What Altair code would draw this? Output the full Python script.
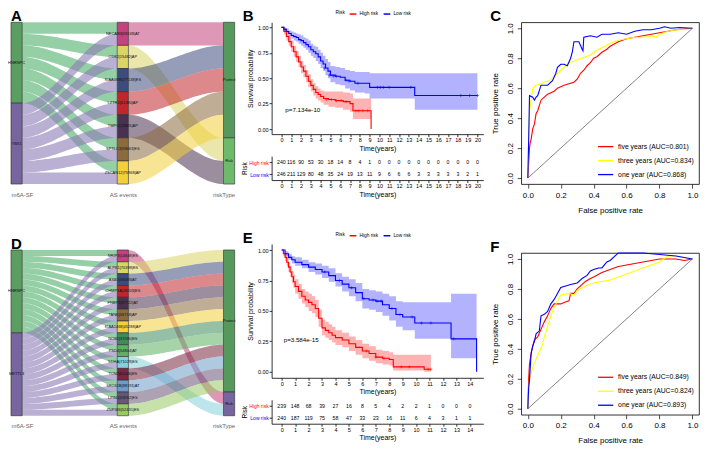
import altair as alt
import pandas as pd
import numpy as np

FONT = "Liberation Sans"

# ---------------- Sankey data (panels A and D) ----------------
A_left = ["HNRNPC", "YBX1"]
A_mid = ["NECAB3|59248|AT", "CD82|15482|AP", "KIAA0895|77138|ES", "LZTR1|61380|AP",
         "TMPO|23965|AP", "SPTLC3|59463|ES", "ZSCAN12|75968|AP"]
A_mid_colors = ["#C4427D", "#DAD466", "#3E4C7D", "#C1262C", "#4A3151", "#8D6A3E", "#F2D03B"]
A_mid_risk = ["Protect", "Risk", "Protect", "Protect", "Risk", "Protect", "Protect"]
A_right = ["Protect", "Risk"]
A_right_colors = ["#559A5C", "#6DBA6B"]

D_left = ["HNRNPC", "METTL3"]
D_mid = ["NRIP3|14848|ES", "ALPK1|70398|ES", "ASB1|58493|AT", "CHMP1A|38203|ES",
         "FNBP1|87722|AT", "TANK|55718|AP", "KIAA1468|45288|AP", "NOB1|37090|ES",
         "PSD4|54804|AT", "SDHA|71029|ES", "TCN2|62046|ES", "SEC61B|88191|AT",
         "LPIN1|53762|ES", "ZNF586|52431|ES"]
D_mid_colors = ["#C4427D", "#DAD466", "#3E4C7D", "#C1262C", "#4A3151", "#8D6A3E", "#F2D03B",
                "#3F8C5C", "#5FAE62", "#86D0DD", "#7A2841", "#6E9CC9", "#675674", "#98C965"]
D_mid_risk = ["Risk", "Protect", "Protect", "Protect", "Protect", "Protect", "Protect",
              "Protect", "Protect", "Risk", "Protect", "Protect", "Protect", "Protect"]
D_right = ["Protect", "Risk"]
D_right_colors = ["#559A5C", "#76659E"]

LEFT_COLORS = ["#5B9E62", "#76659E"]
FLOW_COLORS = ["#4FAF6A", "#8C7BB5"]
AXIS_NAMES = ["m6A-SF", "AS events", "riskType"]

# ---------------- Kaplan-Meier data (panels B and E) ----------------
B_red_t = [0, 0.25, 0.5, 0.75, 1.0, 1.25, 1.5, 1.75, 2.0, 2.25, 2.5, 2.75, 3.0, 3.25, 3.5, 3.75,
           4.0, 4.3, 4.8, 5.5, 6.3, 7.0, 7.3, 9.15]
B_red_s = [1.0, 0.96, 0.91, 0.86, 0.81, 0.76, 0.71, 0.66, 0.61, 0.57, 0.52, 0.47, 0.43, 0.39, 0.36, 0.34,
           0.32, 0.30, 0.29, 0.28, 0.27, 0.25, 0.18, 0.0]
B_red_lo = [1.0, 0.93, 0.87, 0.82, 0.76, 0.71, 0.66, 0.61, 0.55, 0.51, 0.46, 0.41, 0.37, 0.33, 0.30, 0.28,
            0.26, 0.24, 0.22, 0.21, 0.19, 0.17, 0.10, 0.10]
B_red_hi = [1.0, 0.99, 0.95, 0.91, 0.87, 0.82, 0.77, 0.72, 0.67, 0.63, 0.58, 0.54, 0.49, 0.45, 0.42, 0.40,
            0.38, 0.37, 0.37, 0.37, 0.36, 0.35, 0.30, 0.30]
B_blue_t = [0, 0.25, 0.5, 0.75, 1.0, 1.25, 1.5, 1.75, 2.0, 2.25, 2.5, 2.75, 3.0, 3.25, 3.5, 3.75, 4.0,
            4.25, 4.5, 4.75, 5.0, 5.5, 6.0, 6.5, 7.0, 7.5, 8.0, 8.5, 9.0, 13.6, 20.0]
B_blue_s = [1.0, 0.98, 0.96, 0.94, 0.92, 0.91, 0.90, 0.88, 0.87, 0.85, 0.83, 0.81, 0.78, 0.76, 0.74, 0.71,
            0.67, 0.64, 0.60, 0.57, 0.53, 0.52, 0.51, 0.48, 0.47, 0.45, 0.45, 0.45, 0.41, 0.33, 0.33]
B_blue_lo = [1.0, 0.96, 0.94, 0.91, 0.89, 0.87, 0.86, 0.84, 0.82, 0.80, 0.78, 0.75, 0.72, 0.70, 0.67, 0.64,
             0.60, 0.57, 0.53, 0.50, 0.46, 0.44, 0.43, 0.40, 0.38, 0.36, 0.36, 0.35, 0.30, 0.19, 0.19]
B_blue_hi = [1.0, 1.0, 0.99, 0.97, 0.96, 0.95, 0.94, 0.93, 0.92, 0.90, 0.89, 0.87, 0.84, 0.82, 0.81, 0.78,
             0.75, 0.72, 0.69, 0.66, 0.62, 0.61, 0.60, 0.58, 0.57, 0.56, 0.56, 0.56, 0.55, 0.55, 0.55]
B_red_cens_t = [4.6, 5.1, 5.6, 6.1, 6.6, 7.6, 7.9, 8.3, 8.8]
B_red_cens_s = [0.29, 0.29, 0.28, 0.28, 0.27, 0.18, 0.18, 0.18, 0.18]
B_blue_cens_t = [4.4, 4.9, 5.3, 5.6, 6.6, 6.9, 7.8, 9.8, 10.1, 10.4, 11.0, 13.2, 18.3, 19.2, 20.0]
B_blue_cens_s = [0.60, 0.53, 0.52, 0.52, 0.48, 0.47, 0.45, 0.41, 0.41, 0.41, 0.41, 0.41, 0.33, 0.33, 0.33]
B_high_n = [240, 116, 90, 53, 30, 18, 14, 8, 4, 1, 0, 0, 0, 0, 0, 0, 0, 0, 0, 0, 0]
B_low_n = [246, 211, 129, 80, 48, 35, 24, 19, 13, 11, 9, 6, 6, 6, 3, 3, 3, 3, 3, 2, 1]
B_pvalue = "p=7.134e-10"

E_red_t = [0, 0.125, 0.25, 0.375, 0.5, 0.625, 0.75, 0.875, 1.0, 1.25, 1.5, 1.75, 2.0, 2.25, 2.5, 2.75,
           3.0, 3.25, 3.5, 3.75, 4.0, 4.5, 5.0, 5.5, 6.0, 6.5, 7.0, 7.5, 8.0, 8.3, 10.6, 11.1]
E_red_s = [1.0, 0.97, 0.94, 0.90, 0.86, 0.82, 0.78, 0.74, 0.70, 0.66, 0.62, 0.59, 0.57, 0.55, 0.52, 0.44,
           0.36, 0.34, 0.32, 0.30, 0.28, 0.26, 0.23, 0.20, 0.17, 0.15, 0.12, 0.11, 0.10, 0.04, 0.02, 0.02]
E_red_lo = [1.0, 0.95, 0.91, 0.87, 0.82, 0.78, 0.73, 0.69, 0.64, 0.60, 0.56, 0.53, 0.50, 0.48, 0.45, 0.37,
            0.30, 0.28, 0.26, 0.24, 0.22, 0.20, 0.17, 0.14, 0.11, 0.09, 0.07, 0.06, 0.05, 0.01, 0.0, 0.0]
E_red_hi = [1.0, 0.99, 0.97, 0.94, 0.90, 0.87, 0.83, 0.80, 0.76, 0.72, 0.68, 0.66, 0.64, 0.62, 0.59, 0.51,
            0.43, 0.41, 0.39, 0.37, 0.34, 0.32, 0.29, 0.26, 0.23, 0.21, 0.18, 0.17, 0.16, 0.14, 0.14, 0.14]
E_blue_t = [0, 0.25, 0.5, 0.75, 1.0, 1.5, 2.0, 2.5, 3.0, 3.5, 4.0, 4.5, 5.0, 5.5, 6.0, 6.5, 7.0, 7.5,
            8.0, 8.5, 9.0, 9.9, 12.6, 14.5]
E_blue_s = [1.0, 0.97, 0.94, 0.92, 0.90, 0.88, 0.86, 0.84, 0.82, 0.79, 0.75, 0.72, 0.69, 0.65, 0.60, 0.59,
            0.58, 0.55, 0.52, 0.47, 0.45, 0.40, 0.27, 0.0]
E_blue_lo = [1.0, 0.95, 0.92, 0.89, 0.87, 0.85, 0.82, 0.80, 0.77, 0.74, 0.70, 0.66, 0.62, 0.58, 0.52, 0.51,
             0.49, 0.46, 0.42, 0.37, 0.34, 0.27, 0.11, 0.11]
E_blue_hi = [1.0, 0.99, 0.97, 0.95, 0.94, 0.92, 0.90, 0.89, 0.87, 0.85, 0.81, 0.78, 0.76, 0.73, 0.68, 0.67,
             0.66, 0.64, 0.62, 0.58, 0.57, 0.57, 0.64, 0.64]
E_red_cens_t = [6.3, 7.0, 7.6, 8.9, 9.5, 10.9, 11.1]
E_red_cens_s = [0.17, 0.12, 0.11, 0.04, 0.04, 0.02, 0.02]
E_blue_cens_t = [3.2, 4.3, 5.2, 6.1, 6.8, 7.1, 7.4, 8.2, 8.8, 9.7, 10.4, 11.1, 12.8]
E_blue_cens_s = [0.82, 0.75, 0.69, 0.60, 0.59, 0.58, 0.58, 0.52, 0.47, 0.45, 0.40, 0.40, 0.27]
E_high_n = [239, 148, 68, 39, 27, 16, 8, 5, 4, 2, 2, 1, 0, 0, 0]
E_low_n = [240, 187, 119, 75, 58, 47, 33, 23, 16, 11, 6, 4, 3, 1, 1]
E_pvalue = "p=3.584e-15"

RISK_GROUPS = ["High risk", "Low risk"]
RISK_COLORS = ["#FF0000", "#0000FF"]

# ---------------- ROC data (panels C and F) ----------------
ROC_NAMES_C = ["five years (AUC=0.801)", "three years (AUC=0.834)", "one year (AUC=0.868)"]
ROC_NAMES_F = ["five years (AUC=0.849)", "three years (AUC=0.824)", "one year (AUC=0.893)"]
ROC_COLORS = ["#FF0000", "#FFFF00", "#0000FF"]
ROC_TICKS = [0.0, 0.2, 0.4, 0.6, 0.8, 1.0]

C_red_fpr = [0, 0.005, 0.01, 0.015, 0.02, 0.03, 0.04, 0.05, 0.06, 0.08, 0.10, 0.12, 0.14, 0.16, 0.18,
             0.20, 0.22, 0.25, 0.28, 0.30, 0.32, 0.34, 0.36, 0.38, 0.40, 0.42, 0.45, 0.48, 0.50, 0.55,
             0.60, 0.65, 0.70, 0.75, 0.80, 0.85, 0.90, 0.95, 1.0]
C_red_tpr = [0, 0.10, 0.20, 0.24, 0.26, 0.33, 0.36, 0.43, 0.45, 0.52, 0.54, 0.56, 0.57, 0.58, 0.60,
             0.61, 0.62, 0.63, 0.64, 0.66, 0.70, 0.72, 0.75, 0.77, 0.80, 0.81, 0.84, 0.86, 0.88, 0.91,
             0.93, 0.94, 0.95, 0.96, 0.97, 0.98, 0.99, 0.995, 1.0]
C_yel_fpr = [0, 0.003, 0.006, 0.01, 0.02, 0.03, 0.05, 0.08, 0.10, 0.13, 0.15, 0.18, 0.20, 0.23, 0.25,
             0.28, 0.30, 0.33, 0.35, 0.38, 0.40, 0.45, 0.50, 0.55, 0.60, 0.65, 0.70, 0.75, 0.78, 0.80,
             0.85, 0.90, 0.95, 1.0]
C_yel_tpr = [0, 0.20, 0.32, 0.45, 0.52, 0.60, 0.62, 0.63, 0.64, 0.65, 0.67, 0.70, 0.72, 0.75, 0.77,
             0.78, 0.79, 0.80, 0.81, 0.82, 0.84, 0.87, 0.90, 0.92, 0.93, 0.94, 0.94, 0.95, 0.94, 0.96,
             0.98, 0.99, 0.99, 1.0]
C_blu_fpr = [0, 0.003, 0.005, 0.008, 0.01, 0.03, 0.04, 0.05, 0.06, 0.08, 0.10, 0.12, 0.15, 0.17, 0.18,
             0.20, 0.22, 0.24, 0.26, 0.27, 0.28, 0.31, 0.33, 0.335, 0.34, 0.38, 0.42, 0.45, 0.50, 0.55,
             0.60, 0.65, 0.70, 0.75, 0.80, 0.83, 0.87, 0.92, 1.0]
C_blu_tpr = [0, 0.15, 0.25, 0.42, 0.55, 0.54, 0.52, 0.54, 0.55, 0.62, 0.62, 0.62, 0.65, 0.70, 0.74,
             0.76, 0.76, 0.75, 0.80, 0.84, 0.91, 0.91, 0.86, 0.85, 0.94, 0.95, 0.94, 0.96, 0.96, 0.97,
             0.96, 0.98, 0.99, 0.99, 1.0, 1.01, 1.0, 1.005, 1.0]

F_red_fpr = [0, 0.005, 0.01, 0.02, 0.03, 0.04, 0.06, 0.08, 0.10, 0.12, 0.14, 0.16, 0.18, 0.20, 0.22,
             0.25, 0.26, 0.28, 0.30, 0.33, 0.35, 0.38, 0.40, 0.45, 0.50, 0.55, 0.60, 0.65, 0.70, 0.75,
             0.80, 0.85, 0.90, 0.95, 1.0]
F_red_tpr = [0, 0.20, 0.30, 0.37, 0.42, 0.46, 0.48, 0.53, 0.58, 0.62, 0.67, 0.70, 0.70, 0.70, 0.71,
             0.72, 0.77, 0.77, 0.80, 0.83, 0.85, 0.87, 0.88, 0.91, 0.93, 0.95, 0.96, 0.97, 0.98, 0.99,
             1.0, 1.0, 1.0, 0.99, 1.0]
F_yel_fpr = [0, 0.005, 0.01, 0.02, 0.03, 0.05, 0.07, 0.09, 0.10, 0.12, 0.14, 0.16, 0.18, 0.20, 0.25,
             0.28, 0.30, 0.35, 0.40, 0.45, 0.50, 0.55, 0.60, 0.65, 0.70, 0.75, 0.80, 0.85, 0.90, 0.95, 1.0]
F_yel_tpr = [0, 0.12, 0.20, 0.23, 0.28, 0.33, 0.38, 0.43, 0.48, 0.55, 0.62, 0.68, 0.72, 0.76, 0.77,
             0.76, 0.79, 0.82, 0.84, 0.85, 0.86, 0.88, 0.90, 0.92, 0.94, 0.96, 0.98, 1.02, 1.02, 1.01, 1.0]
F_blu_fpr = [0, 0.005, 0.01, 0.02, 0.03, 0.04, 0.05, 0.07, 0.08, 0.10, 0.12, 0.14, 0.16, 0.18, 0.20,
             0.23, 0.26, 0.30, 0.33, 0.36, 0.38, 0.40, 0.43, 0.45, 0.48, 0.50, 0.53, 0.55, 0.60, 0.70,
             0.80, 0.90, 1.0]
F_blu_tpr = [0, 0.14, 0.19, 0.37, 0.42, 0.45, 0.50, 0.52, 0.62, 0.63, 0.65, 0.70, 0.73, 0.77, 0.81,
             0.82, 0.83, 0.84, 0.87, 0.89, 0.92, 0.93, 0.94, 0.94, 0.98, 0.99, 1.02, 1.04, 1.04, 1.04,
             1.03, 1.02, 1.0]

ALL_CH = dict(x="independent", y="independent", color="independent", fill="independent",
              stroke="independent", fillOpacity="independent")


def indep(c):
    return c.resolve_scale(**ALL_CH).resolve_legend(color="independent", fill="independent",
                                                     stroke="independent")


def letter_layer(letter, dx):
    return alt.Chart(pd.DataFrame({"l": [letter]})).mark_text(
        align="left", baseline="alphabetic", fontSize=15, fontWeight="bold", font=FONT, color="black"
    ).encode(text="l:N", x=alt.value(dx), y=alt.value(-1))


# ---------------- Sankey panel ----------------
def sankey_panel(left, mids, mid_colors, mid_risk, rights, right_colors, letter, w, h):
    nl, nm = len(left), len(mids)
    total = nl * nm
    XL, XM, XR = (0.0, 0.1), (0.95, 1.05), (1.9, 2.0)
    nodes, ribs = [], []
    for i, name in enumerate(left):
        nodes.append(dict(x0=XL[0], x1=XL[1], y0=i * nm, y1=(i + 1) * nm, fill=LEFT_COLORS[i], label=name))
    for j, name in enumerate(mids):
        nodes.append(dict(x0=XM[0], x1=XM[1], y0=j * nl, y1=(j + 1) * nl, fill=mid_colors[j], label=name))
    start, y = {}, 0
    for k, r in enumerate(rights):
        c = mid_risk.count(r) * nl
        start[r] = y
        nodes.append(dict(x0=XR[0], x1=XR[1], y0=y, y1=y + c, fill=right_colors[k], label=r))
        y += c
    nodes = pd.DataFrame(nodes)
    nodes["xc"] = (nodes.x0 + nodes.x1) / 2
    nodes["yc"] = (nodes.y0 + nodes.y1) / 2

    T = np.linspace(0, 1, 31)
    S = T * T * (3 - 2 * T)
    fid = [0]

    def rib(xa, xb, a0, a1, b0, b1, col, op):
        for t, s in zip(T, S):
            ribs.append(dict(fid=fid[0], x=xa + (xb - xa) * t, y0=a0 + (b0 - a0) * s,
                             y1=a1 + (b1 - a1) * s, fill=col, op=op))
        fid[0] += 1

    for i in range(nl):
        for j in range(nm):
            rib(XL[1], XM[0], i * nm + j, i * nm + j + 1, j * nl + i, j * nl + i + 1, FLOW_COLORS[i], 0.6)
    pos = dict(start)
    for j in range(nm):
        r = mid_risk[j]
        rib(XM[1], XR[0], j * nl, (j + 1) * nl, pos[r], pos[r] + nl, mid_colors[j], 0.55)
        pos[r] += nl
    ribs = pd.DataFrame(ribs)

    xs = alt.Scale(domain=[0, 2], nice=False, zero=False)
    ys = alt.Scale(domain=[total, 0], nice=False, zero=False)
    xaxis = alt.Axis(values=[0, 1.0, 2.0],
                     labelExpr="datum.value < 0.5 ? '%s' : (datum.value < 1.5 ? '%s' : '%s')" % tuple(AXIS_NAMES),
                     labelAlign={"condition": [{"test": "datum.value < 0.5", "value": "left"},
                                               {"test": "datum.value > 1.5", "value": "right"}],
                                 "value": "center"},
                     domain=False, ticks=False, grid=False, title=None, labelFontSize=6,
                     labelColor="#666666", labelPadding=7, labelFont=FONT, labelFlush=False)
    r_layer = alt.Chart(ribs).mark_area(strokeWidth=0).encode(
        x=alt.X("x:Q", scale=xs, axis=xaxis),
        y=alt.Y("y0:Q", scale=ys, axis=None, stack=None), y2="y1:Q",
        fill=alt.Fill("fill:N", scale=None),
        fillOpacity=alt.FillOpacity("op:Q", scale=None),
        detail="fid:N")
    n_layer = alt.Chart(nodes).mark_rect(stroke="#2b2b2b", strokeWidth=0.6).encode(
        x=alt.X("x0:Q", scale=xs, axis=xaxis), x2="x1:Q",
        y=alt.Y("y0:Q", scale=ys, axis=None), y2="y1:Q",
        fill=alt.Fill("fill:N", scale=None))
    t_layer = alt.Chart(nodes).mark_text(fontSize=4.0, font=FONT, color="#111111").encode(
        x=alt.X("xc:Q", scale=xs, axis=xaxis), y=alt.Y("yc:Q", scale=ys, axis=None), text="label:N")
    return alt.layer(r_layer, n_layer, t_layer, letter_layer(letter, 0)).properties(width=w, height=h)


# ---------------- KM panel ----------------
def km_panel(red, blue, red_c, blue_c, high_n, low_n, dom, ticks, ptxt, pxy, letter, w, h, th):
    rows = []
    for g, col, (t, s, lo, hi) in [("High risk", RISK_COLORS[0], red), ("Low risk", RISK_COLORS[1], blue)]:
        for a, b, c, d in zip(t, s, lo, hi):
            rows.append(dict(group=g, col=col, t=a, s=b, lo=c, hi=d))
    df = pd.DataFrame(rows)
    cens = []
    for g, col, (t, s) in [("High risk", RISK_COLORS[0], red_c), ("Low risk", RISK_COLORS[1], blue_c)]:
        for a, b in zip(t, s):
            cens.append(dict(group=g, col=col, t=a, s=b))
    cens = pd.DataFrame(cens)

    xs = alt.Scale(domain=dom, nice=False, zero=False)
    ys = alt.Scale(domain=[-0.05, 1.05], nice=False, zero=False)
    common = dict(grid=False, domainColor="black", tickColor="black", tickSize=2.5, labelFontSize=5.5,
                  labelColor="black", labelPadding=1, titleFontSize=7, titleFontWeight="normal",
                  titleColor="black", labelFont=FONT, titleFont=FONT, domainWidth=0.8, tickWidth=0.8,
                  labelFlush=False, labelOverlap=False)
    xaxis = alt.Axis(values=ticks, title="Time(years)", titlePadding=1, **common)
    yaxis = alt.Axis(values=[0, 0.25, 0.5, 0.75, 1.0], format=".2f", title="Survival probability",
                     titlePadding=4, **common)
    band = alt.Chart(df).mark_area(interpolate="step-after", fillOpacity=0.3).encode(
        x=alt.X("t:Q", scale=xs, axis=xaxis), y=alt.Y("lo:Q", scale=ys, axis=yaxis, stack=None),
        y2="hi:Q", fill=alt.Fill("col:N", scale=None), detail="group:N")
    line = alt.Chart(df).mark_line(interpolate="step-after", strokeWidth=1.1).encode(
        x=alt.X("t:Q", scale=xs, axis=xaxis), y=alt.Y("s:Q", scale=ys, axis=yaxis),
        color=alt.Color("group:N", scale=alt.Scale(domain=RISK_GROUPS, range=RISK_COLORS),
                        legend=alt.Legend(orient="none", legendX=64, legendY=-13, direction="horizontal",
                                          title="Risk", titleOrient="left", titleFontSize=4.8,
                                          titleFontWeight="normal", labelFontSize=4.8, symbolType="stroke",
                                          symbolStrokeWidth=1.5, symbolSize=45, columnPadding=2,
                                          titlePadding=3, labelOffset=2, labelFont=FONT, titleFont=FONT,
                                          padding=0, labelColor="black", titleColor="black")))
    cm = alt.Chart(cens).mark_point(shape="M-1,0L1,0M0,-1L0,1", size=10, strokeWidth=0.7, filled=False).encode(
        x=alt.X("t:Q", scale=xs, axis=xaxis), y=alt.Y("s:Q", scale=ys, axis=yaxis),
        stroke=alt.Stroke("col:N", scale=None))
    pt = alt.Chart(pd.DataFrame({"t": [pxy[0]], "s": [pxy[1]], "l": [ptxt]})).mark_text(
        align="left", fontSize=6.2, font=FONT, color="black").encode(
        x=alt.X("t:Q", scale=xs, axis=xaxis), y=alt.Y("s:Q", scale=ys, axis=yaxis), text="l:N")
    top = alt.layer(band, line, cm, pt, letter_layer(letter, -29)).properties(width=w, height=h)

    trows = [dict(group="High risk", t=i, n=v) for i, v in enumerate(high_n)] + \
            [dict(group="Low risk", t=i, n=v) for i, v in enumerate(low_n)]
    tdf = pd.DataFrame(trows)
    ycol = {"condition": {"test": "datum.value === 'High risk'", "value": RISK_COLORS[0]},
            "value": RISK_COLORS[1]}
    tcommon = {k: v for k, v in common.items() if k not in ("labelColor", "labelFontSize", "titleFontSize")}
    tab = alt.Chart(tdf).mark_text(fontSize=5.2, font=FONT, color="black").encode(
        x=alt.X("t:Q", scale=xs, axis=alt.Axis(values=ticks, title="Time(years)", titlePadding=1, **common)),
        y=alt.Y("group:N", sort=RISK_GROUPS, scale=alt.Scale(domain=RISK_GROUPS),
                axis=alt.Axis(title="Risk", titlePadding=1, labelColor=ycol, labelFontSize=5,
                              titleFontSize=6.5, **tcommon)),
        text="n:Q").properties(width=w, height=th)
    return indep(alt.vconcat(top, tab, spacing=5))


# ---------------- ROC panel ----------------
def roc_panel(curves, names, letter, w, h):
    rows = []
    for name, (fpr, tpr) in zip(names, curves):
        for k, (a, b) in enumerate(zip(fpr, tpr)):
            rows.append(dict(curve=name, fpr=a, tpr=b, k=k))
    df = pd.DataFrame(rows)
    xs = alt.Scale(domain=[-0.04, 1.04], nice=False, zero=False)
    ys = alt.Scale(domain=[-0.04, 1.04], nice=False, zero=False)
    common = dict(grid=False, domain=False, tickSize=4, tickColor="black", tickWidth=0.7,
                  labelFontSize=8, titleFontSize=8, labelColor="black", titleColor="black",
                  titleFontWeight="normal", labelFont=FONT, titleFont=FONT, labelFlush=False,
                  format=".1f", values=ROC_TICKS, labelOverlap=False)
    xaxis = alt.Axis(title="False positive rate", labelPadding=3, titlePadding=7, **common)
    yaxis = alt.Axis(title="True positive rate", labelAngle=270, labelPadding=3, titlePadding=7, **common)
    diag = alt.Chart(pd.DataFrame({"fpr": [0, 1], "tpr": [0, 1]})).mark_line(
        color="#333333", strokeWidth=0.6).encode(
        x=alt.X("fpr:Q", scale=xs, axis=xaxis), y=alt.Y("tpr:Q", scale=ys, axis=yaxis))
    lines = alt.Chart(df).mark_line(strokeWidth=1.1).encode(
        x=alt.X("fpr:Q", scale=xs, axis=xaxis), y=alt.Y("tpr:Q", scale=ys, axis=yaxis),
        order="k:Q",
        color=alt.Color("curve:N", scale=alt.Scale(domain=names, range=ROC_COLORS),
                        legend=alt.Legend(orient="bottom-right", title=None, symbolType="stroke",
                                          symbolStrokeWidth=1.3, symbolSize=230, labelFontSize=6.8,
                                          rowPadding=1, offset=5, padding=0, labelFont=FONT,
                                          labelColor="black", labelLimit=200)))
    return alt.layer(diag, lines, letter_layer(letter, -31)).properties(
        width=w, height=h, view=alt.ViewBackground(stroke="black", strokeWidth=0.8))


A = sankey_panel(A_left, A_mid, A_mid_colors, A_mid_risk, A_right, A_right_colors, "A", 224, 162)
D = sankey_panel(D_left, D_mid, D_mid_colors, D_mid_risk, D_right, D_right_colors, "D", 224, 166)

B = km_panel((B_red_t, B_red_s, B_red_lo, B_red_hi), (B_blue_t, B_blue_s, B_blue_lo, B_blue_hi),
             (B_red_cens_t, B_red_cens_s), (B_blue_cens_t, B_blue_cens_s), B_high_n, B_low_n,
             [-1, 20.6], list(range(0, 21)), B_pvalue, (0.4, 0.19), "B", 212, 112, 24)
E = km_panel((E_red_t, E_red_s, E_red_lo, E_red_hi), (E_blue_t, E_blue_s, E_blue_lo, E_blue_hi),
             (E_red_cens_t, E_red_cens_s), (E_blue_cens_t, E_blue_cens_s), E_high_n, E_low_n,
             [-0.75, 15.0], list(range(0, 15)), E_pvalue, (0.15, 0.26), "E", 212, 134, 24)

C = roc_panel([(C_red_fpr, C_red_tpr), (C_yel_fpr, C_yel_tpr), (C_blu_fpr, C_blu_tpr)], ROC_NAMES_C, "C", 178, 162)
F = roc_panel([(F_red_fpr, F_red_tpr), (F_yel_fpr, F_yel_tpr), (F_blu_fpr, F_blu_tpr)], ROC_NAMES_F, "F", 178, 162)

col1 = indep(alt.vconcat(A, D, spacing=40))
col2 = indep(alt.vconcat(B, E, spacing=34))
col3 = indep(alt.vconcat(C, F, spacing=24))

chart = indep(alt.hconcat(col1, col2, col3, spacing=6)).properties(padding=0).configure(
    font=FONT).configure_view(stroke=None)

chart.save("out.html", embed_options={"renderer": "svg", "actions": False})
